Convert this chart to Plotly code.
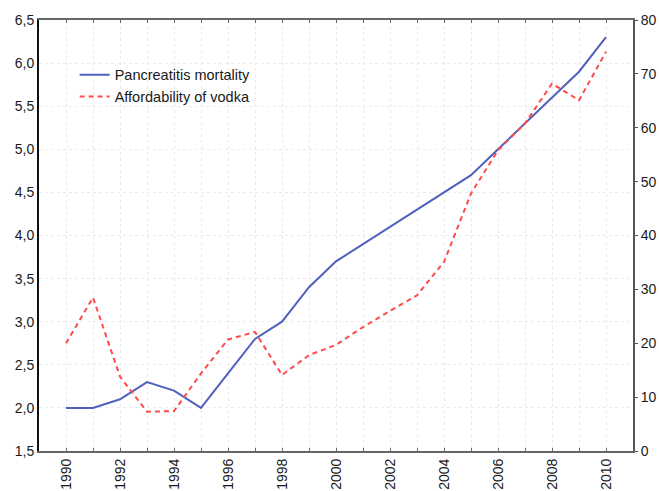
import plotly.graph_objects as go

years = list(range(1990, 2011))
pancreatitis_mortality = [2.0, 2.0, 2.1, 2.3, 2.2, 2.0, 2.4, 2.8, 3.0, 3.4, 3.7,
                          3.9, 4.1, 4.3, 4.5, 4.7, 5.0, 5.3, 5.6, 5.9, 6.3]
vodka_affordability = [20.0, 28.5, 13.8, 7.3, 7.4, 14.4, 20.7, 22.1, 14.1, 17.8, 19.7,
                       23.0, 26.0, 28.9, 35.1, 47.8, 55.8, 60.8, 68.2, 65.1, 74.1]
year_labels = [str(y) if y % 2 == 0 else "" for y in years]

FONT = "Liberation Sans, Arial, sans-serif"

fig = go.Figure()
fig.add_trace(go.Scatter(
    x=years, y=pancreatitis_mortality, mode="lines",
    name="Pancreatitis mortality",
    line=dict(color="#5060bd", width=2),
))
fig.add_trace(go.Scatter(
    x=years, y=vodka_affordability, mode="lines",
    name="Affordability of vodka", yaxis="y2",
    line=dict(color="#ff4a4a", width=2, dash="5px,4px"),
))

fig.update_layout(
    width=659, height=491,
    margin=dict(l=39, r=26, t=20, b=40),
    paper_bgcolor="white", plot_bgcolor="white",
    separators=", ",
    font=dict(family=FONT, size=14, color="#1a1a1a"),
    showlegend=True,
    legend=dict(
        x=0.06, y=0.91, xanchor="left", yanchor="top",
        bgcolor="rgba(0,0,0,0)", borderwidth=0,
        font=dict(size=14.5, color="#1a1a1a"),
        tracegroupgap=0, itemwidth=30,
    ),
    xaxis=dict(
        range=[1989, 2011], automargin=False,
        tickmode="array", tickvals=years, ticktext=year_labels,
        tickangle=-90,
        ticks="inside", ticklen=3, tickcolor="#666",
        showline=True, linecolor="#666", linewidth=2, mirror="ticks",
        showgrid=True, gridcolor="#ebebeb", griddash="dot", gridwidth=1,
        zeroline=False,
        tickfont=dict(size=14),
    ),
    yaxis=dict(
        range=[1.5, 6.5], dtick=0.5, tick0=1.5, tickformat=".1f",
        automargin=False,
        ticks="", showline=True, linecolor="#111", linewidth=2,
        showgrid=True, gridcolor="#ebebeb", griddash="dot", gridwidth=1,
        zeroline=False,
        tickfont=dict(size=14),
    ),
    yaxis2=dict(
        range=[0, 80], dtick=10, overlaying="y", side="right",
        automargin=False,
        ticks="outside", ticklen=3, tickcolor="#555",
        showline=True, linecolor="#555", linewidth=2,
        showgrid=False, zeroline=False,
        tickfont=dict(size=14),
    ),
)

fig.write_html("out.html")
